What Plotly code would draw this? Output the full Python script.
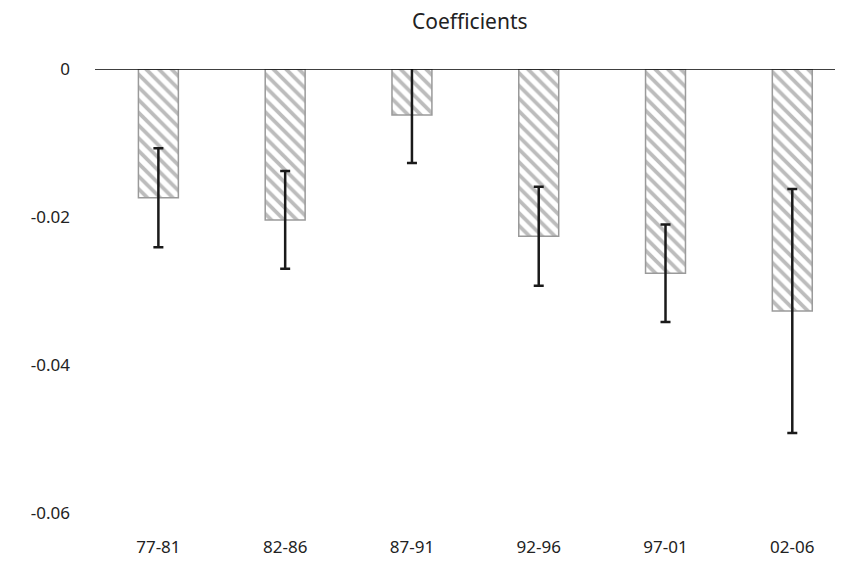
import plotly.graph_objects as go

categories = ["77-81", "82-86", "87-91", "92-96", "97-01", "02-06"]
coefficients = [-0.0174, -0.0204, -0.0062, -0.0226, -0.0276, -0.0327]
errors = [0.0067, 0.0066, 0.0065, 0.0067, 0.0066, 0.0165]
y_ticks = [0, -0.02, -0.04, -0.06]
y_tick_labels = ["0", "-0.02", "-0.04", "-0.06"]

fig = go.Figure(go.Bar(
    x=categories,
    y=coefficients,
    error_y=dict(type="data", array=errors, visible=True, color="#1a1a1a", thickness=2.5, width=5),
    marker=dict(
        color="white",
        line=dict(color="#9a9a9a", width=1.5),
        pattern=dict(shape="\\", fgcolor="#7a7a7a", bgcolor="white", size=9, solidity=0.42),
    ),
))

fig.update_layout(
    width=835, height=563,
    margin=dict(l=87, r=0, t=61, b=58, autoexpand=False),
    plot_bgcolor="white", paper_bgcolor="white",
    bargap=0.685,
    showlegend=False,
    font=dict(family="Noto Sans", size=16, color="#222"),
    title=dict(text="Coefficients", x=0.553, xanchor="center", y=0.975, yanchor="middle",
               font=dict(size=21, color="#222")),
    shapes=[dict(type="line", xref="paper", yref="y", x0=0, x1=1, y0=0, y1=0,
                 line=dict(color="black", width=1.5))],
)
fig.update_xaxes(type="category", range=[-0.5, 5.4], showgrid=False, showline=False, ticks="",
                 ticklabelstandoff=22, tickfont=dict(size=17), automargin=False)
fig.update_yaxes(range=[-0.06, 0], tickvals=y_ticks, ticktext=y_tick_labels, showgrid=False,
                 zeroline=False, showline=False, ticks="", ticklabelstandoff=24,
                 tickfont=dict(size=17), automargin=False)

fig.write_html("out.html")
